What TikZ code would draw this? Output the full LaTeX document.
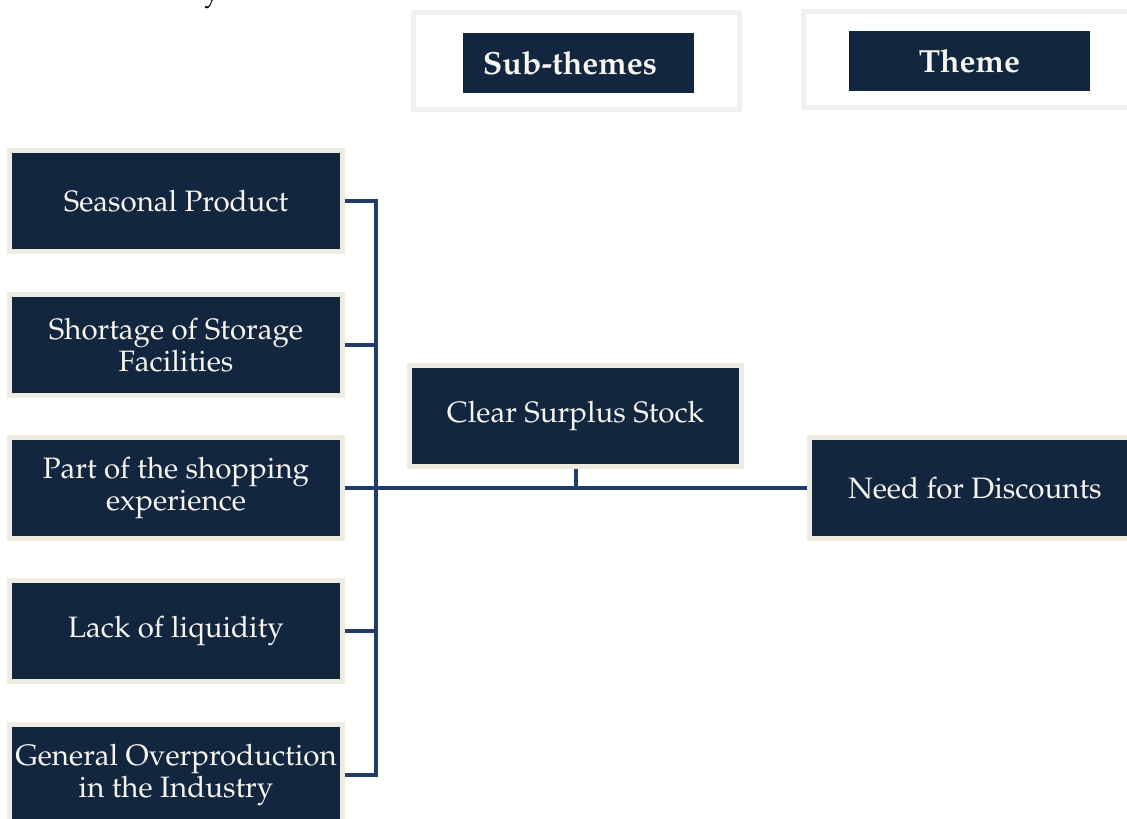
\documentclass[tikz,border=0pt]{standalone}
\usepackage[T1]{fontenc}
\usepackage{mathpazo}
\definecolor{navy}{HTML}{12263F}
\definecolor{cream}{HTML}{EEEBE0}
\definecolor{linkblue}{HTML}{1D3C69}
\definecolor{framegray}{HTML}{F0F0F0}
\definecolor{txt}{HTML}{F7F5EF}
\tikzset{
  item/.style={draw=cream, line width=5pt, fill=navy, text=txt, align=center,
    font=\fontsize{29.5}{32}\selectfont, inner sep=0pt},
  hframe/.style={draw=framegray, line width=5pt, fill=white, inner sep=0pt},
  hbox/.style={fill=navy, text=txt, inner sep=0pt, font=\fontsize{32}{34}\selectfont\bfseries},
  conn/.style={draw=linkblue, line width=4pt}
}
\begin{document}
\begin{tikzpicture}[x=1pt,y=-1pt]
\useasboundingbox (0,0) rectangle (1127,819);
\node[anchor=base west, font=\fontsize{29.5}{32}\selectfont, text=black, inner sep=0pt] (stray) at (204,1) {y};
% headers
\node[hframe, minimum width=326pt, minimum height=97pt] (subframe) at (576.5,61) {};
\node[hbox, minimum width=231pt, minimum height=60pt,
  label={[text=txt, inner sep=0pt, font=\fontsize{32}{34}\selectfont\bfseries, xshift=-8.5pt]center:Sub-themes}] (subthemes) at (578.5,63) {};
\node[hframe, minimum width=327pt, minimum height=96pt] (themeframe) at (966.5,59.5) {};
\node[hbox, minimum width=241pt, minimum height=60pt] (theme) at (969.5,61) {Theme};
% left items
\node[item, minimum width=333pt, minimum height=101pt] (seasonal) at (176,201) {Seasonal Product};
\node[item, minimum width=333pt, minimum height=101pt] (shortage) at (176,345) {Shortage of Storage\\Facilities};
\node[item, minimum width=333pt, minimum height=101pt] (part) at (176,488) {Part of the shopping\\experience};
\node[item, minimum width=333pt, minimum height=101pt] (lack) at (176,631) {Lack of liquidity};
\node[item, minimum width=333pt, minimum height=101pt] (general) at (176,775) {General Overproduction\\in the Industry};
% middle and right
\node[item, minimum width=332pt, minimum height=101pt] (clear) at (575.5,416) {Clear Surplus Stock};
\node[item, minimum width=331pt, minimum height=101pt] (need) at (975,488) {Need for Discounts};
% connectors
\coordinate (spine) at (376,0);
\draw[conn] (seasonal.east) -- (seasonal.east -| spine) -- (general.east -| spine) -- (general.east);
\draw[conn] (shortage.east) -- (shortage.east -| spine);
\draw[conn] (lack.east) -- (lack.east -| spine);
\draw[conn] (part.east) -- (need.west);
\draw[conn] (clear.south) -- (clear.south |- part.east);
\end{tikzpicture}
\end{document}
